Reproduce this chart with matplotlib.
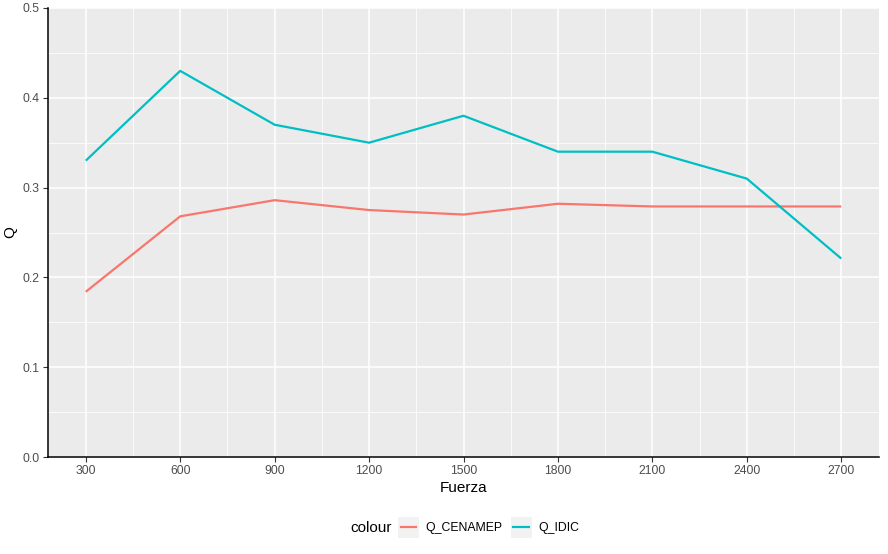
import matplotlib
matplotlib.use("Agg")
import matplotlib.pyplot as plt
from matplotlib.legend_handler import HandlerLine2D
from matplotlib.patches import Rectangle
from matplotlib.lines import Line2D

plt.rcParams['font.family'] = ['Liberation Sans', 'DejaVu Sans']

fuerza = [300, 600, 900, 1200, 1500, 1800, 2100, 2400, 2700]
q_cenamep = [0.184, 0.268, 0.286, 0.275, 0.270, 0.282, 0.279, 0.279, 0.279]
q_idic = [0.33, 0.43, 0.37, 0.35, 0.38, 0.34, 0.34, 0.31, 0.221]
series_names = ["Q_CENAMEP", "Q_IDIC"]
colors = ["#F8766D", "#00BFC4"]
xticks = [300, 600, 900, 1200, 1500, 1800, 2100, 2400, 2700]
yticks = [0.0, 0.1, 0.2, 0.3, 0.4, 0.5]

fig = plt.figure(figsize=(8.88, 5.54), dpi=100)
ax = fig.add_axes([48/888, 1-457/554, (879-48)/888, (457-8)/554])
ax.set_facecolor("#EBEBEB")

lines = []
for vals, name, c in zip([q_cenamep, q_idic], series_names, colors):
    ln, = ax.plot(fuerza, vals, color=c, lw=1.6, label=name, solid_capstyle='butt', zorder=3)
    lines.append(ln)

xr = fuerza[-1] - fuerza[0]
ax.set_xlim(fuerza[0] - 0.05*xr, fuerza[-1] + 0.05*xr)
ax.set_ylim(0, 0.5)
ax.set_xticks(xticks)
ax.set_xticklabels([str(t) for t in xticks])
ax.set_yticks(yticks)
ax.set_yticklabels([f"{t:.1f}" for t in yticks])
minor_x = [(xticks[i] + xticks[i+1]) / 2 for i in range(len(xticks)-1)]
ax.set_xticks(minor_x, minor=True)
ax.set_yticks([(yticks[i] + yticks[i+1]) / 2 for i in range(len(yticks)-1)], minor=True)
ax.grid(True, which='major', color='white', lw=1.1, zorder=0)
ax.grid(True, which='minor', color='white', lw=0.55, zorder=0)
ax.set_axisbelow(True)
ax.tick_params(which='minor', length=0)
ax.tick_params(which='major', length=3.5, width=0.8, color='#333333', labelsize=8.8,
               labelcolor='#4D4D4D', pad=2.5)
for s in ['top', 'right']:
    ax.spines[s].set_visible(False)
for s in ['left', 'bottom']:
    ax.spines[s].set_color('black')
    ax.spines[s].set_linewidth(1.1)

ax.set_xlabel("Fuerza", fontsize=11, labelpad=3)
ax.set_ylabel("Q", fontsize=11, labelpad=4)


class BoxLineHandler(HandlerLine2D):
    def create_artists(self, legend, orig_handle, xdescent, ydescent, width, height, fontsize, trans):
        rect = Rectangle((-xdescent, -ydescent + height / 2 - width / 2), width, width,
                         facecolor="#F2F2F2", edgecolor='none', transform=trans)
        y = -ydescent + height / 2
        ln = Line2D([-xdescent + 2, -xdescent + width - 2], [y, y], color=orig_handle.get_color(),
                    lw=orig_handle.get_linewidth(), transform=trans)
        return [rect, ln]


fig.text(350/888, 1 - 528/554, "colour", fontsize=11, va='center', ha='left')
leg = fig.legend(handles=lines, labels=series_names, ncol=2, loc='center left',
                 bbox_to_anchor=(398/888, 1 - 528/554), frameon=False, fontsize=8.8,
                 handler_map={Line2D: BoxLineHandler()}, handlelength=1.72, handleheight=1.0,
                 handletextpad=0.55, columnspacing=0.65, borderaxespad=0, borderpad=0)

fig.savefig("out.png", dpi=100)
